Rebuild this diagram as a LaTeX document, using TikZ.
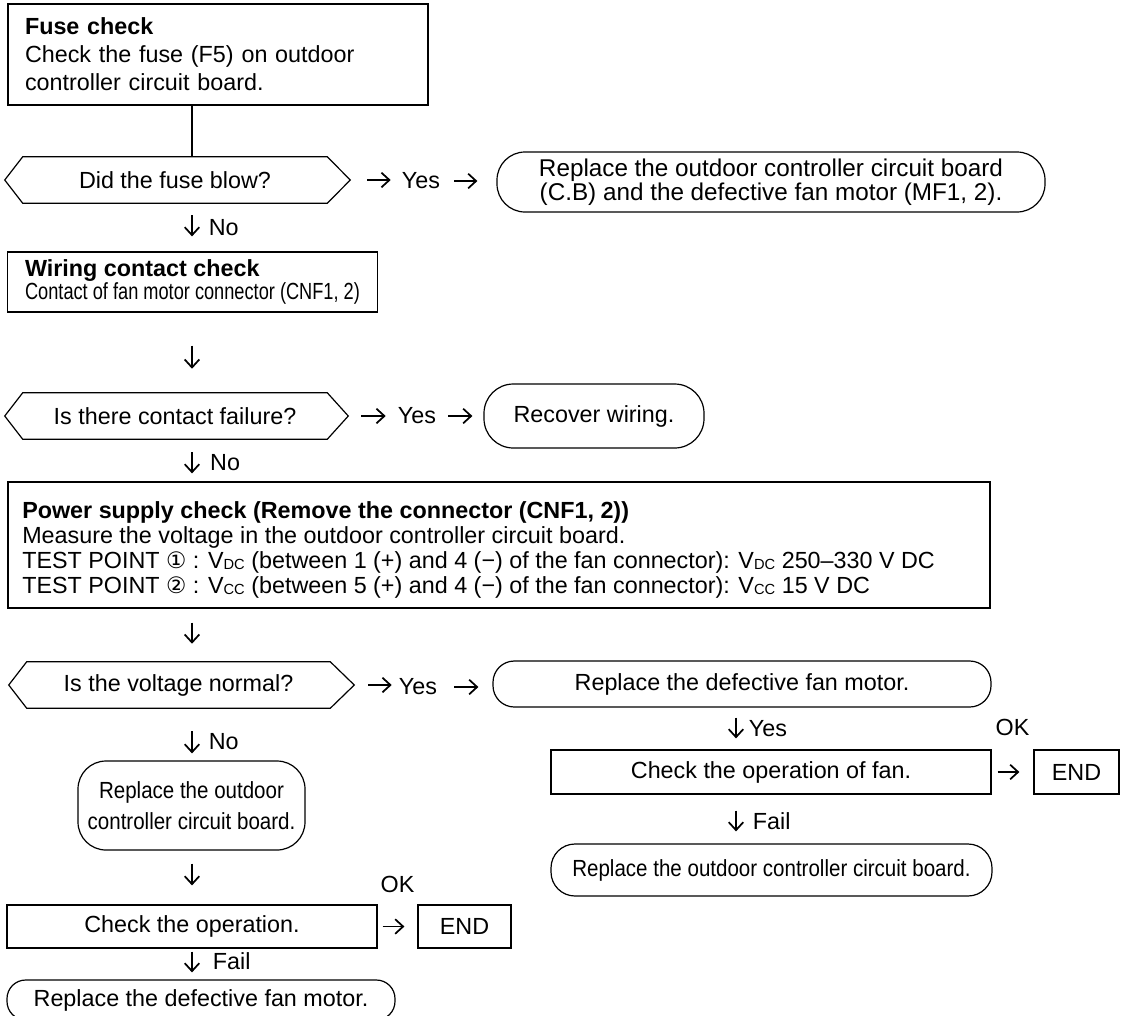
\documentclass[tikz,border=0pt]{standalone}
\usepackage{fontspec}
\setmainfont{Liberation Sans}
\newfontfamily\narrowfont[FakeStretch=0.88]{Liberation Sans}
\newfontfamily\contactfont[FakeStretch=0.78]{Liberation Sans}
\newfontfamily\circfont{DejaVu Sans}
\usetikzlibrary{arrows.meta}
\usetikzlibrary{calc}
\newcommand{\lowsub}[1]{\raisebox{-0.8pt}{\fontsize{11}{11}\selectfont #1}}

\begin{document}
\begin{tikzpicture}[x=0.75pt,y=0.75pt,yscale=-1,xscale=1,
  font=\fontsize{17.5}{21}\selectfont,
  box/.style={draw, line width=0.9pt, inner sep=0pt},
  rbox/.style={draw, line width=0.9pt, inner sep=0pt, align=center},
  dec/.style={inner sep=0pt, minimum height=34.5pt},
  lbl/.style={inner sep=0pt},
  arr/.style={line width=1.3pt, -{Straight Barb[length=6pt,width=11pt]}}]
\useasboundingbox (0,0) rectangle (1121,1015);
\coordinate (lcol) at (192,0);
\coordinate (rcol) at (736,0);

%Shape: Rectangle [fuse check]
\node[box, minimum width=315pt, minimum height=75.75pt, text width=289.5pt, align=left] (fuse) at (218,54.5) {\textbf{Fuse check}\\Check the fuse (F5) on outdoor\\controller circuit board.};
%Shape: Hexagon [fuse blow]
\node[dec, minimum width=228pt] (d1) at (175,180) {Did the fuse blow?};
\draw[line width=0.9pt] (d1.north west) -- (d1.north east) -- ($(d1.east)+(23,0)$) coordinate (d1tip) -- (d1.south east) -- (d1.south west) -- ($(d1.west)+(-18,0)$) -- cycle;
% Text Node
\node[lbl] (yes1) at (421,181) {Yes};
%Shape: Rounded Rectangle
\node[rbox, minimum width=411pt, minimum height=45pt, rounded corners=21pt, font=\fontsize{18.2}{16.5}\selectfont] (r1) at (771,182) {Replace the outdoor controller circuit board\\(C.B) and the defective fan motor (MF1, 2).};

%Shape: Rectangle [wiring]
\node[box, minimum width=277.5pt, minimum height=45pt, align=left, font=\fontsize{17.5}{17.25}\selectfont] (wiring) at (192.5,282) {\textbf{Wiring contact check}\\{\contactfont Contact of fan motor connector (CNF1, 2)}};
%Shape: Hexagon [contact failure]
\node[dec, minimum width=228pt] (d2) at (175,416) {Is there contact failure?};
\draw[line width=0.9pt] (d2.north west) -- (d2.north east) -- ($(d2.east)+(21,0)$) coordinate (d2tip) -- (d2.south east) -- (d2.south west) -- ($(d2.west)+(-18,0)$) -- cycle;
% Text Node
\node[lbl] (yes2) at (417,416) {Yes};
%Shape: Rounded Rectangle
\node[rbox, minimum width=165pt, minimum height=48pt, rounded corners=22pt] (r2) at (594,416) {Recover wiring.};

%Shape: Rectangle [power supply]
\node[box, minimum width=736.5pt, minimum height=94.5pt] (power) at (499,545) {};
% Text Node
\node[lbl, anchor=base west] (pwtitle) at (22,518) {\textbf{Power supply check (Remove the connector (CNF1, 2))}};
\node[lbl, anchor=base west] (pwline1) at (22,543) {Measure the voltage in the outdoor controller circuit board.};
\node[lbl, anchor=base west] (pwline2) at (22,568) {TEST POINT {\circfont\fontsize{17}{17}\selectfont ①} : V\lowsub{DC} (between 1 (+) and 4 (−) of the fan connector): V\lowsub{DC} 250–330 V DC};
\node[lbl, anchor=base west] (pwline3) at (22,593) {TEST POINT {\circfont\fontsize{17}{17}\selectfont ②} : V\lowsub{CC} (between 5 (+) and 4 (−) of the fan connector): V\lowsub{CC} 15 V DC};
%Shape: Hexagon [voltage]
\node[dec, minimum width=227.25pt] (d3) at (178.5,685) {Is the voltage normal?};
\draw[line width=0.9pt] (d3.north west) -- (d3.north east) -- ($(d3.east)+(24,0)$) coordinate (d3tip) -- (d3.south east) -- (d3.south west) -- ($(d3.west)+(-18,0)$) -- cycle;
% Text Node
\node[lbl] (yes3) at (418,687) {Yes};

%Shape: Rounded Rectangle [right branch]
\node[rbox, minimum width=373.5pt, minimum height=34.5pt, rounded corners=16pt] (r3) at (742,684) {Replace the defective fan motor.};
\node[box, minimum width=330pt, minimum height=33pt] (chkfan) at (771,772) {Check the operation of fan.};
\node[box, minimum width=63.75pt, minimum height=33pt] (end1) at (1076.5,772) {END};
\node[rbox, minimum width=330.75pt, minimum height=39pt, rounded corners=18pt, font=\narrowfont\fontsize{17.5}{21}\selectfont] (r4) at (771.5,870) {Replace the outdoor controller circuit board.};
\node[lbl] (ok1) at ($(chkfan.east)!.5!(end1.west)+(0,-45)$) {OK};

%Shape: Rounded Rectangle [left branch]
\node[rbox, minimum width=170.25pt, minimum height=66.75pt, rounded corners=21pt, font=\narrowfont\fontsize{17.5}{23.25}\selectfont] (r5) at (191.5,805.5) {Replace the outdoor\\controller circuit board.};
\node[box, minimum width=277.5pt, minimum height=32.25pt] (chkop) at (192,926.5) {Check the operation.};
\node[box, minimum width=69.75pt, minimum height=32.25pt] (end2) at (464.5,926.5) {END};
\node[rbox, minimum width=291pt, minimum height=30pt, rounded corners=14pt] (r6) at (201,1000) {Replace the defective fan motor.};
\node[lbl] (ok2) at ($(chkop.east)!.5!(end2.west)+(0,-42)$) {OK};

%Straight Lines
\draw[line width=1.3pt] (fuse.south -| lcol) -- (d1.north -| lcol);
\draw[arr, shorten <=9pt, shorten >=11.25pt] (d1.south -| lcol) -- node[lbl, right=12pt, midway] {No} (wiring.north -| lcol);
\draw[arr, shorten <=24.75pt, shorten >=18pt] (wiring.south -| lcol) -- (d2.north -| lcol);
\draw[arr, shorten <=9.75pt, shorten >=6pt] (d2.south -| lcol) -- node[lbl, right=13pt, pos=.56] {No} (power.north -| lcol);
\draw[arr, shorten <=10.5pt, shorten >=13.5pt] (power.south -| lcol) -- (d3.north -| lcol);
\draw[arr, shorten <=17.25pt, shorten >=5.25pt] (d3.south -| lcol) -- node[lbl, right=12pt, pos=.64] {No} (r5.north -| lcol);
\draw[arr, shorten <=9.75pt, shorten >=14.25pt] (r5.south -| lcol) -- (chkop.north -| lcol);
\draw[arr, shorten <=2.25pt, shorten >=5.25pt] (chkop.south -| lcol) -- node[lbl, right=15pt, pos=.42] {Fail} (r6.north -| lcol);
\draw[arr, shorten <=7.5pt, shorten >=8.25pt] (r3.south -| rcol) -- node[lbl, right=9pt, midway] {Yes} (chkfan.north -| rcol);
\draw[arr, shorten <=12pt, shorten >=9pt] (chkfan.south -| rcol) -- node[lbl, right=12pt, pos=.54] {Fail} (r4.north -| rcol);

\draw[arr, shorten <=12.75pt, shorten >=8.25pt] (d1tip) -- (d1tip -| yes1.west);
\draw[arr, shorten <=10.5pt, shorten >=14.25pt] (yes1.east) -- (yes1.east -| r1.west);
\draw[arr, shorten <=9.75pt, shorten >=9pt] (d2tip) -- (d2tip -| yes2.west);
\draw[arr, shorten <=9pt, shorten >=8.25pt] (yes2.east) -- (yes2.east -| r2.west);
\draw[arr, shorten <=10.5pt, shorten >=5.25pt] (d3tip) -- (d3tip -| yes3.west);
\draw[arr, shorten <=12.75pt, shorten >=10.5pt] (yes3.east) -- (yes3.east -| r3.west);
\draw[arr, shorten <=4.5pt, shorten >=10.5pt] (chkfan.east) -- (end1.west);
\draw[arr, shorten <=3.75pt, shorten >=9.75pt] (chkop.east) -- (end2.west);

\end{tikzpicture}
\end{document}
